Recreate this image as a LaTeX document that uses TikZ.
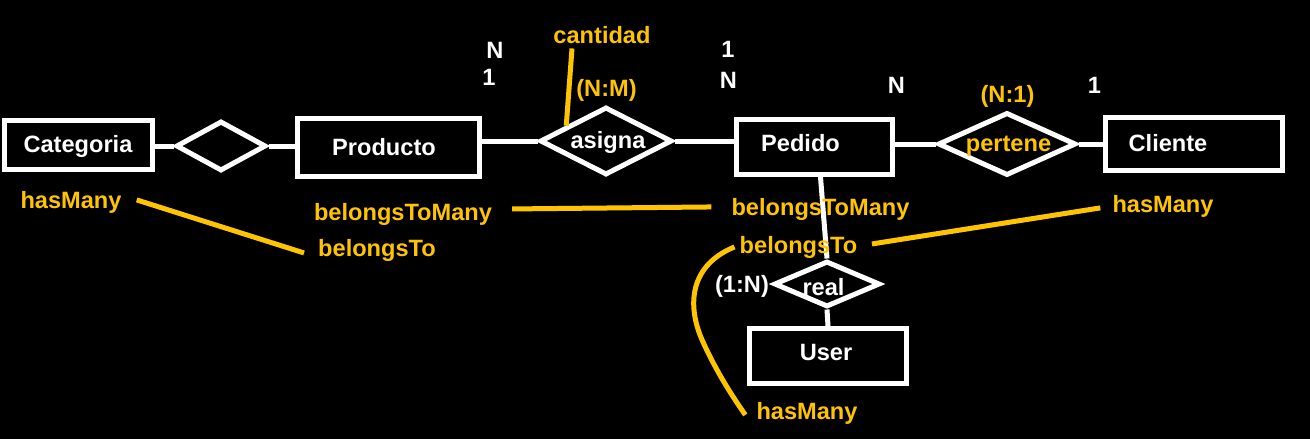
\documentclass[tikz,border=0pt]{standalone}
\usepackage{fontspec}
\setmainfont{Liberation Sans}
\usetikzlibrary{shapes.geometric,calc}
\definecolor{gold}{RGB}{255,196,0}
\begin{document}
\begin{tikzpicture}[x=1pt,y=-1pt,
  every node/.style={font=\fontsize{23.6}{28}\selectfont\bfseries, inner sep=0pt},
  ent/.style={draw=white, line width=5pt, rectangle},
  rel/.style={draw=white, line width=5pt, diamond},
  wtxt/.style={text=white, anchor=base},
  ytxt/.style={text=gold, anchor=base},
  wline/.style={draw=white, line width=5pt},
  yline/.style={draw=gold, line width=5pt}]
\fill[black] (0,0) rectangle (1310,439);
\useasboundingbox (0,0) rectangle (1310,439);
% entities
\node[ent, minimum width=148pt, minimum height=49pt] (cat) at (78.5,145) {};
\node[ent, minimum width=182pt, minimum height=58pt] (prod) at (388.5,147.5) {};
\node[ent, minimum width=156pt, minimum height=55pt] (ped) at (814.5,147) {};
\node[ent, minimum width=177pt, minimum height=53pt] (cli) at (1194,144) {};
\node[ent, minimum width=157pt, minimum height=55pt] (user) at (828,356) {};
% relationships
\node[rel, minimum width=90pt, minimum height=50pt] (d1) at (221,146) {};
\node[rel, minimum width=132pt, minimum height=68pt] (asig) at (606,141) {};
\node[rel, minimum width=138pt, minimum height=63pt] (pert) at (1007,144) {};
\node[rel, minimum width=106pt, minimum height=46pt] (real) at (827,284) {};
% white connectors
\draw[wline] (cat.east |- d1.west) -- (d1.west);
\draw[wline] (d1.east) -- (d1.east -| prod.west);
\draw[wline] (prod.east |- asig.west) -- (asig.west);
\draw[wline] (asig.east) -- (asig.east -| ped.west);
\draw[wline] (ped.east |- pert.west) -- (pert.west);
\draw[wline] (pert.east) -- (pert.east -| cli.west);
\draw[wline] ([xshift=6pt]ped.south) -- (real.north);
\draw[wline] (real.south) -- (user.north);
% entity / relationship texts
\node[wtxt] (tcat) at (78,152) {Categoria};
\node[wtxt] (tprod) at (384,155) {Producto};
\node[wtxt] (tasig) at (608,148) {asigna};
\node[wtxt] (tped) at (800.5,151) {Pedido};
\node[ytxt] (tpert) at (1008.5,151) {pertene};
\node[wtxt] (tcli) at (1168,151) {Cliente};
\node[wtxt] (treal) at (823.5,295) {real};
\node[wtxt] (tuser) at (826,360) {User};
% cardinalities
\node[wtxt] (n1) at (495,58) {N};
\node[wtxt] (o1) at (489,85) {1};
\node[wtxt] (o2) at (728,57) {1};
\node[wtxt] (n2) at (728.5,88) {N};
\node[wtxt] (n3) at (896.5,93) {N};
\node[wtxt] (o3) at (1094.5,93) {1};
\node[wtxt] (r1n) at (742,292) {(1:N)};
\node[ytxt] (rnm) at (606.5,96) {(N:M)};
\node[ytxt] (rn1) at (1007.5,102) {(N:1)};
\node[ytxt] (cant) at (602,43) {cantidad};
% association labels
\node[ytxt] (hm1) at (71,208) {hasMany};
\node[ytxt] (bt1) at (377,256) {belongsTo};
\node[ytxt] (btm1) at (403,220) {belongsToMany};
\node[ytxt] (btm2) at (820.5,215) {belongsToMany};
\node[ytxt] (bt2) at (798.5,253) {belongsTo};
\node[ytxt] (hm2) at (1163,212) {hasMany};
\node[ytxt] (hm3) at (807,419) {hasMany};
% yellow connectors
\draw[yline] ($(cant.south)+(-30,5)$) -- ($(asig.west)!0.42!(asig.north)$);
\draw[yline] ($(hm1.east)+(15,-2)$) -- ($(bt1.west)+(-14,3)$);
\draw[yline] ($(btm1.east)+(20,-5)$) -- ($(btm2.west)+(-20,-2)$);
\draw[yline] ($(bt2.east)+(14.5,-3)$) -- ($(hm2.west)+(-12,2)$);
\draw[yline] ($(bt2.west)+(-5,0)$) .. controls (690,265) and (686,305) .. (703,342)
  .. controls (718,375) and (735,400) .. ($(hm3.west)+(-11,2)$);
\end{tikzpicture}
\end{document}
